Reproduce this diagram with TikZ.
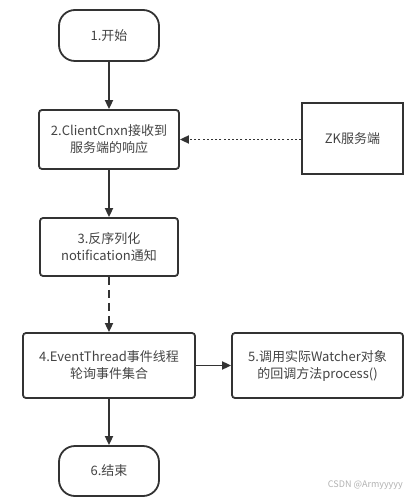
\documentclass[tikz,border=0pt]{standalone}
\usepackage{fontspec}
\setmainfont{Noto Sans CJK SC}
\usetikzlibrary{arrows.meta}
\definecolor{ink}{HTML}{333333}
\definecolor{txt}{HTML}{444444}
\tikzset{
  box/.style={draw=ink, line width=1.8pt, rounded corners=3pt, fill=white, inner sep=0pt, text=txt, font=\fontsize{13pt}{17pt}\selectfont, align=center},
  term/.style={draw=ink, line width=1.8pt, rounded corners=16pt, fill=white, inner sep=0pt, text=txt, font=\fontsize{13pt}{17pt}\selectfont, align=center},
  conn/.style={draw=ink, line width=1.8pt, -{Triangle[length=9pt,width=8pt]}},
}
\begin{document}
\begin{tikzpicture}[x=1pt,y=-1pt]
\useasboundingbox (0,0) rectangle (417,502);
\fill[white] (0,0) rectangle (417,502);
\node[term, minimum width=100pt, minimum height=51pt] (start) at (109,35.5) {1.开始};
\node[box, minimum width=140pt, minimum height=59pt] (recv) at (109,139.5) {2.ClientCnxn接收到\\服务端的响应};
\node[box, rounded corners=0pt, minimum width=101pt, minimum height=71pt] (zk) at (352.5,138.5) {ZK服务端};
\node[box, minimum width=138pt, minimum height=58pt] (deser) at (109,247) {3.反序列化\\notification通知};
\node[box, minimum width=172pt, minimum height=65pt] (poll) at (109,365.5) {4.EventThread事件线程\\轮询事件集合};
\node[box, minimum width=171pt, minimum height=65pt] (call) at (317.5,365.5) {5.调用实际Watcher对象\\的回调方法process()};
\node[term, minimum width=100pt, minimum height=50pt] (end) at (109,471) {6.结束};
\node[text=gray!60, font=\fontsize{9pt}{10pt}\selectfont, anchor=east, inner sep=0pt] (wm) at (403,485) {CSDN @Armyyyyy};
\draw[conn] (start) -- (recv);
\draw[conn, dash pattern=on 2pt off 2.2pt] (zk.west |- recv.east) -- (recv.east);
\draw[conn] (recv) -- (deser);
\draw[conn, dash pattern=on 8pt off 5pt] (deser) -- (poll);
\draw[conn] (poll) -- (call);
\draw[conn] (poll) -- (end);
\end{tikzpicture}
\end{document}
